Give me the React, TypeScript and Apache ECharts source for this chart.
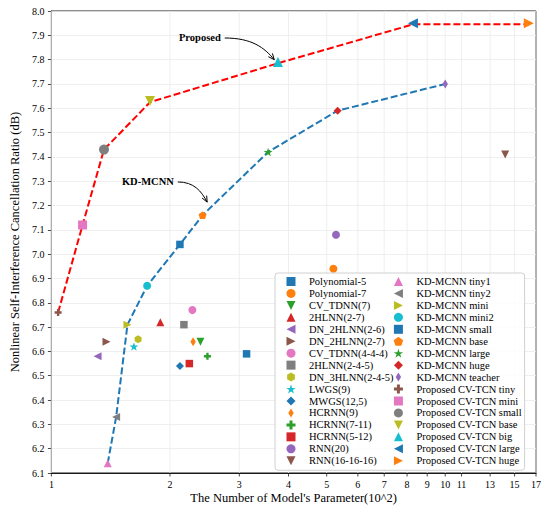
import React, { useEffect, useRef } from "react";
import * as echarts from "echarts";

const FONT = '"Liberation Serif", "Times New Roman", Times, serif';

// ---------- data ----------
const xTickValues = [1, 2, 3, 4, 5, 6, 7, 8, 9, 10, 11, 13, 15, 17];
const yMin = 6.1;
const yMax = 8.0;

const modelNames = [
  "Polynomial-5", "Polynomial-7", "CV_TDNN(7)", "2HLNN(2-7)", "DN_2HLNN(2-6)", "DN_2HLNN(2-7)",
  "CV_TDNN(4-4-4)", "2HLNN(2-4-5)", "DN_3HLNN(2-4-5)", "LWGS(9)", "MWGS(12,5)", "HCRNN(9)",
  "HCRNN(7-11)", "HCRNN(5-12)", "RNN(20)", "RNN(16-16-16)",
  "KD-MCNN tiny1", "KD-MCNN tiny2", "KD-MCNN mini", "KD-MCNN mini2", "KD-MCNN small",
  "KD-MCNN base", "KD-MCNN large", "KD-MCNN huge", "KD-MCNN teacher",
  "Proposed CV-TCN tiny", "Proposed CV-TCN mini", "Proposed CV-TCN small", "Proposed CV-TCN base",
  "Proposed CV-TCN big", "Proposed CV-TCN large", "Proposed CV-TCN huge",
];

// number of parameters (10^2)
const modelParams = [
  3.13, 5.20, 2.39, 1.89, 1.31, 1.38,
  2.28, 2.17, 1.66, 1.62, 2.12, 2.29,
  2.49, 2.24, 5.28, 14.2,
  1.39, 1.46, 1.56, 1.75, 2.12,
  2.42, 3.55, 5.33, 10.0,
  1.04, 1.20, 1.36, 1.78,
  3.76, 8.28, 16.3,
];

// cancellation ratio (dB)
const modelRatios = [
  6.59, 6.94, 6.64, 6.72, 6.58, 6.64,
  6.77, 6.71, 6.65, 6.62, 6.54, 6.64,
  6.58, 6.55, 7.08, 7.41,
  6.14, 6.33, 6.71, 6.87, 7.04,
  7.16, 7.42, 7.59, 7.70,
  6.76, 7.12, 7.43, 7.63,
  7.79, 7.95, 7.95,
];

const kdLineParams = [1.39, 1.46, 1.56, 1.75, 2.12, 2.42, 3.55, 5.33, 10.0];
const kdLineRatios = [6.14, 6.33, 6.71, 6.87, 7.04, 7.16, 7.42, 7.59, 7.70];

const proposedLineParams = [1.04, 1.20, 1.36, 1.78, 3.76, 8.28, 16.3];
const proposedLineRatios = [6.76, 7.12, 7.43, 7.625, 7.785, 7.945, 7.945];

const annotationTexts = ["Proposed", "KD-MCNN"];
// [arrow start x, arrow start y, arrow end x, arrow end y] in data units
const annotationArrows = [
  [2.755, 7.889, 3.68, 7.80],
  [2.094, 7.297, 2.486, 7.214],
];

// ---------- styles ----------
const C = {
  blue: "#1f77b4", orange: "#ff7f0e", green: "#2ca02c", red: "#d62728", purple: "#9467bd",
  brown: "#8c564b", pink: "#e377c2", gray: "#7f7f7f", olive: "#bcbd22", cyan: "#17becf",
};
const SYM = {
  square: "path://M0,0H2V2H0Z",
  circle: "circle",
  triUp: "path://M1,0L2,2L0,2Z",
  triDown: "path://M0,0L2,0L1,2Z",
  triLeft: "path://M0,1L2,0L2,2Z",
  triRight: "path://M0,0L2,1L0,2Z",
  diamond: "path://M1,0L2,1L1,2L0,1Z",
  thinDiamond: "path://M0.6,0L1.2,1L0.6,2L0,1Z",
  pentagon: "path://M1,0L1.951,0.691L1.588,1.809L0.412,1.809L0.049,0.691Z",
  hexagon: "path://M1,0L1.866,0.5L1.866,1.5L1,2L0.134,1.5L0.134,0.5Z",
  star: "path://M1,0L1.2245,0.691L1.951,0.691L1.3633,1.118L1.588,1.809L1,1.382L0.412,1.809L0.6367,1.118L0.049,0.691L0.7755,0.691Z",
  plus: "path://M1,0H2V1H3V2H2V3H1V2H0V1H1Z",
};

const modelColors = [
  C.blue, C.orange, C.green, C.red, C.purple, C.brown, C.pink, C.gray, C.olive, C.cyan,
  C.blue, C.orange, C.green, C.red, C.purple, C.brown,
  C.pink, C.gray, C.olive, C.cyan, C.blue, C.orange, C.green, C.red, C.purple,
  C.brown, C.pink, C.gray, C.olive, C.cyan, C.blue, C.orange,
];
const modelSymbols = [
  SYM.square, SYM.circle, SYM.triDown, SYM.triUp, SYM.triLeft, SYM.triRight, SYM.circle, SYM.square,
  SYM.hexagon, SYM.star, SYM.diamond, SYM.thinDiamond, SYM.plus, SYM.square, SYM.circle, SYM.triDown,
  SYM.triUp, SYM.triLeft, SYM.triRight, SYM.circle, SYM.square, SYM.pentagon, SYM.star, SYM.diamond,
  SYM.thinDiamond,
  SYM.plus, SYM.square, SYM.circle, SYM.triDown, SYM.triUp, SYM.triLeft, SYM.triRight,
];
const modelSizes = [
  7.5, 8, 8, 8, 8, 8, 8, 7.5,
  8, 9, 8, 9, 7, 7.5, 8, 8,
  8, 8, 8, 8, 7.5, 8, 9, 8,
  9,
  7, 9, 10, 10, 10, 10, 10,
];

export default function App() {
  const ref = useRef<HTMLDivElement>(null);

  useEffect(() => {
    if (!ref.current) return;
    const chart = echarts.init(ref.current, undefined, { renderer: "svg" });

    const scatterSeries = modelNames.map((name, i) => ({
      type: "scatter",
      name,
      data: [[modelParams[i], modelRatios[i]]],
      symbol: modelSymbols[i],
      symbolSize: modelSizes[i],
      symbolKeepAspect: true,
      itemStyle: { color: modelColors[i], opacity: 1 },
      z: 5,
      emphasis: { disabled: true },
    }));

    const legendData: any[] = [];
    modelNames.forEach((n, i) => {
      legendData.push(n);
      if (i === 15) legendData.push("");
    });

    const option: any = {
      animation: false,
      backgroundColor: "#ffffff",
      textStyle: { fontFamily: FONT },
      grid: {
        left: 41, right: 14, top: 11, bottom: 38,
        show: true, borderColor: "#1a1a1a", borderWidth: 1, backgroundColor: "transparent",
      },
      xAxis: {
        type: "log", logBase: 10, min: 1, max: 17,
        name: "The Number of Model's Parameter(10^2)",
        nameLocation: "middle", nameGap: 18,
        nameTextStyle: { fontFamily: FONT, fontSize: 12.5, color: "#000" },
        axisLine: { show: true, lineStyle: { color: "#1a1a1a", width: 1 } },
        axisTick: { show: false }, axisLabel: { show: false },
        splitLine: { show: false }, minorTick: { show: false }, minorSplitLine: { show: false },
      },
      yAxis: {
        type: "value", min: yMin, max: yMax, interval: 0.1,
        name: "Nonlinear Self-Interference Cancellation Ratio (dB)",
        nameLocation: "middle", nameGap: 22,
        nameTextStyle: { fontFamily: FONT, fontSize: 12.5, color: "#000" },
        axisLine: { show: true, lineStyle: { color: "#1a1a1a", width: 1 } },
        axisTick: { show: true, length: 3.5, lineStyle: { color: "#1a1a1a", width: 0.8 } },
        axisLabel: {
          fontFamily: FONT, fontSize: 10, color: "#000", margin: 7,
          formatter: (v: number) => v.toFixed(1),
        },
        splitLine: { show: true, lineStyle: { color: "#ebebeb", width: 0.8 } },
      },
      legend: {
        data: legendData,
        orient: "vertical",
        left: 275, top: 273,
        padding: [3, 3, 4, 3],
        itemWidth: 26, itemHeight: 9, itemGap: 0.95,
        symbolKeepAspect: true,
        selectedMode: false,
        borderColor: "#d0d0d0", borderWidth: 1, borderRadius: 3,
        backgroundColor: "rgba(255,255,255,0.85)",
        textStyle: { fontFamily: FONT, fontSize: 10.5, color: "#000" },
        z: 10,
      },
      series: [
        {
          type: "custom",
          name: "xticks",
          coordinateSystem: "cartesian2d",
          data: xTickValues.map((v) => [v, yMin]),
          encode: { x: 0, y: 1 },
          z: 1,
          silent: true,
          clip: false,
          renderItem: (params: any, api: any) => {
            const v = api.value(0);
            const bottom = api.coord([v, yMin]);
            const top = api.coord([v, yMax]);
            return {
              type: "group",
              children: [
                {
                  type: "line",
                  shape: { x1: bottom[0], y1: bottom[1], x2: top[0], y2: top[1] },
                  style: { stroke: "#ebebeb", lineWidth: 0.8 },
                  z2: 0,
                },
                {
                  type: "line",
                  shape: { x1: bottom[0], y1: bottom[1], x2: bottom[0], y2: bottom[1] + 3.5 },
                  style: { stroke: "#1a1a1a", lineWidth: 0.8 },
                },
                {
                  type: "text",
                  x: bottom[0], y: bottom[1] + 6,
                  style: {
                    text: String(v), fontFamily: FONT, fontSize: 10, fill: "#000",
                    align: "center", verticalAlign: "top",
                  },
                },
              ],
            };
          },
        },
        {
          type: "line",
          name: "proposedLine",
          data: proposedLineParams.map((x, i) => [x, proposedLineRatios[i]]),
          showSymbol: false, symbol: "none",
          lineStyle: { color: "#ff0000", width: 2, type: [7, 3] },
          z: 3, silent: true,
        },
        {
          type: "line",
          name: "kdLine",
          data: kdLineParams.map((x, i) => [x, kdLineRatios[i]]),
          showSymbol: false, symbol: "none",
          lineStyle: { color: C.blue, width: 2, type: [7, 3] },
          z: 3, silent: true,
        },
        ...scatterSeries,
        {
          type: "custom",
          name: "annotations",
          coordinateSystem: "cartesian2d",
          data: annotationArrows,
          encode: { x: [0, 2], y: [1, 3] },
          z: 6, silent: true, clip: false,
          renderItem: (params: any, api: any) => {
            const s = api.coord([api.value(0), api.value(1)]);
            const e = api.coord([api.value(2), api.value(3)]);
            const dx = e[0] - s[0];
            const dy = e[1] - s[1];
            const c1 = [s[0] + 0.55 * dx, s[1]];
            const c2 = [e[0] - 0.2 * dx, e[1] - 0.55 * dy];
            const tx = e[0] - c2[0];
            const ty = e[1] - c2[1];
            const len = Math.sqrt(tx * tx + ty * ty) || 1;
            const ux = tx / len, uy = ty / len;
            const ah = 6, aw = 2.6;
            const bx = e[0] - ux * ah, by = e[1] - uy * ah;
            const p1 = [bx - uy * aw, by + ux * aw];
            const p2 = [bx + uy * aw, by - ux * aw];
            return {
              type: "group",
              children: [
                {
                  type: "text",
                  x: s[0] - 4, y: s[1],
                  style: {
                    text: annotationTexts[params.dataIndex],
                    fontFamily: FONT, fontSize: 10.5, fontWeight: "bold", fill: "#000",
                    align: "right", verticalAlign: "middle",
                  },
                },
                {
                  type: "bezierCurve",
                  shape: {
                    x1: s[0], y1: s[1], x2: e[0], y2: e[1],
                    cpx1: c1[0], cpy1: c1[1], cpx2: c2[0], cpy2: c2[1],
                  },
                  style: { stroke: "#000", lineWidth: 1, fill: null },
                },
                {
                  type: "polyline",
                  shape: { points: [p1, e, p2] },
                  style: { stroke: "#000", lineWidth: 1, fill: null },
                },
              ],
            };
          },
        },
      ],
    };

    chart.setOption(option);
    return () => chart.dispose();
  }, []);

  return (
    <div
      ref={ref}
      style={{ position: "fixed", left: 0, top: 0, width: 550, height: 511, background: "#fff" }}
    />
  );
}
